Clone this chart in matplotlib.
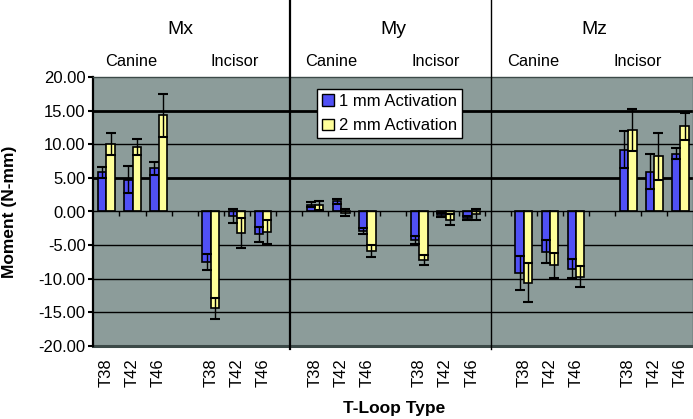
import matplotlib
matplotlib.use("Agg")
import matplotlib.pyplot as plt
import numpy as np
from matplotlib.patches import Patch
from matplotlib.ticker import FormatStrFormatter

plt.rcParams["font.family"] = ["Liberation Sans", "DejaVu Sans"]
plt.rcParams["axes.unicode_minus"] = False

# ---- data ----
moments = ["Mx", "My", "Mz"]
teeth = ["Canine", "Incisor"]
loops = ["T38", "T42", "T46"]

act_1mm = [5.8, 4.7, 6.4, -7.5, -0.7, -3.4,
           1.0, 1.5, -2.9, -4.3, -0.5, -1.0,
           -9.1, -6.0, -8.5, 9.2, 5.9, 8.6]
err_1mm = [0.8, 2.0, 0.9, 1.2, 1.0, 1.1,
           0.4, 0.4, 0.5, 0.6, 0.3, 0.3,
           2.5, 1.7, 1.4, 2.8, 2.6, 0.8]
act_2mm = [10.0, 9.6, 14.3, -14.4, -3.2, -3.0,
           0.9, -0.2, -5.9, -7.2, -1.2, -0.4,
           -10.6, -8.0, -9.7, 12.1, 8.2, 12.7]
err_2mm = [1.6, 1.2, 3.2, 1.6, 2.2, 1.8,
           0.7, 0.5, 0.9, 0.8, 0.8, 0.8,
           2.9, 1.9, 1.6, 3.1, 3.5, 2.0]

series_labels = ["1 mm Activation", "2 mm Activation"]
yticks = np.arange(-20, 21, 5)

# ---- layout ----
BLUE = "#5050F5"
YELLOW = "#FFFF99"
BG = "#8C9C9A"
BORDER = "#3C4A48"

# slot positions: 8 slots per moment, canine 0-2, gap, incisor 4-6
pos = []
for m in range(len(moments)):
    for t in range(len(teeth)):
        for k in range(len(loops)):
            pos.append(8 * m + 4 * t + k + 0.5)
pos = np.array(pos)
tick_labels = loops * (len(moments) * len(teeth))

W, H = 693, 419
fig = plt.figure(figsize=(W / 100, H / 100), dpi=100)
ax = fig.add_axes([93.4 / W, (H - 346) / H, 600 / W, 269 / H])
ax.set_facecolor(BG)
ax.set_xlim(0, 23)
ax.set_ylim(-20, 20)

# grid lines
for v in yticks:
    if v in (-20, 20, 0):
        continue
    ax.axhline(v, color="black", lw=2 if v in (15, 5) else 1, zorder=1)

bw = 0.32
ax.bar(pos - bw / 2, act_1mm, bw, color=BLUE, edgecolor="black", lw=1.2, zorder=2)
ax.bar(pos + bw / 2, act_2mm, bw, color=YELLOW, edgecolor="black", lw=1.2, zorder=2)
ax.errorbar(pos - bw / 2, act_1mm, yerr=err_1mm, fmt="none", ecolor="black",
            elinewidth=1, capsize=3.5, capthick=1.5, zorder=3)
ax.errorbar(pos + bw / 2, act_2mm, yerr=err_2mm, fmt="none", ecolor="black",
            elinewidth=1, capsize=3.5, capthick=1.5, zorder=3)

# spines
ax.spines["left"].set_color("black")
ax.spines["left"].set_linewidth(1.6)
ax.spines["top"].set_color(BORDER)
ax.spines["top"].set_linewidth(1)
ax.spines["right"].set_color(BORDER)
ax.spines["right"].set_linewidth(1)
ax.spines["bottom"].set_position(("data", 0))
ax.spines["bottom"].set_color("black")
ax.spines["bottom"].set_linewidth(1)
ax.spines["bottom"].set_zorder(4)

# category boundary ticks on the zero line
ax.set_xticks(np.arange(1, 23))
ax.tick_params(axis="x", direction="out", length=3.6, width=1, labelbottom=False)

# y axis
ax.set_yticks(yticks)
ax.yaxis.set_major_formatter(FormatStrFormatter("%.2f"))
ax.tick_params(axis="y", direction="out", length=3.6, width=1.5, pad=2,
               labelsize=12)

# bottom labels on a secondary axis at the plot bottom
sec = ax.secondary_xaxis("bottom")
sec.set_xticks(pos)
sec.set_xticklabels(tick_labels, rotation=90, fontsize=12)
sec.tick_params(length=0, pad=8.6)
sec.spines["bottom"].set_color(BORDER)
sec.spines["bottom"].set_linewidth(2.2)

# moment separators running up through the header
for xs, lw in [(7.53, 1.6), (15.25, 1.0)]:
    ax.axvline(xs, ymin=-0.012, ymax=1.3, color="black", lw=lw, clip_on=False, zorder=5)

# header labels
trans = ax.get_xaxis_transform()
moment_x = [3.35, 11.5, 19.2]
tooth_x = [(1.45, 5.42), (9.1, 13.12), (16.84, 20.86)]
for name, mx, (cx, ix) in zip(moments, moment_x, tooth_x):
    ax.text(mx, 1.178, name, transform=trans, ha="center", va="center", fontsize=14)
    ax.text(cx, 1.059, teeth[0], transform=trans, ha="center", va="center", fontsize=11.8)
    ax.text(ix, 1.059, teeth[1], transform=trans, ha="center", va="center", fontsize=11.8)

# legend
handles = [Patch(facecolor=BLUE, edgecolor="black", lw=1),
           Patch(facecolor=YELLOW, edgecolor="black", lw=1)]
leg = ax.legend(handles, series_labels, loc="upper left",
                bbox_to_anchor=(0.3725, 0.955), borderaxespad=0, fontsize=12,
                fancybox=False, framealpha=1, edgecolor="black",
                handlelength=0.7, handleheight=0.7, handletextpad=0.3,
                borderpad=0.3, labelspacing=0.55)
leg.get_frame().set_linewidth(1)
leg.set_zorder(6)

fig.text(394 / W, 1 - 408 / H, "T-Loop Type", ha="center", va="center",
         fontsize=12.5, fontweight="bold")
fig.text(10 / W, 1 - 212 / H, "Moment (N-mm)", ha="center", va="center",
         rotation=90, fontsize=12.5, fontweight="bold")

fig.savefig("out.png", dpi=100)
plt.close(fig)
